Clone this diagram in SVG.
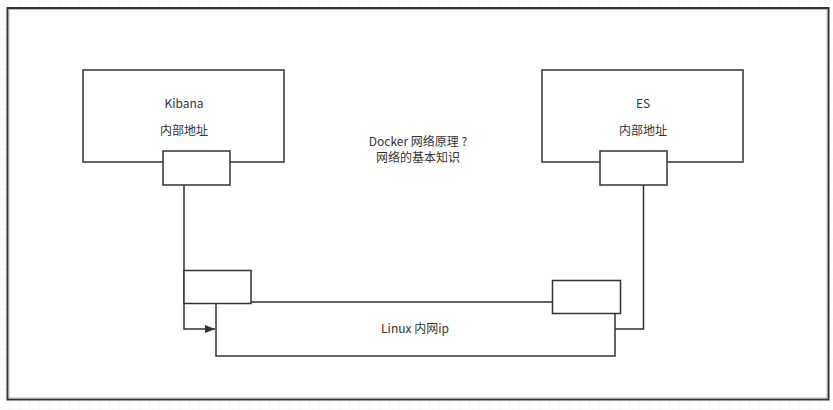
<svg xmlns="http://www.w3.org/2000/svg" width="833" height="410" viewBox="0 0 833 410">
<defs>
<pattern id="grid" width="10" height="10" patternUnits="userSpaceOnUse">
<path d="M10 0 V10 M0 10 H10" fill="none" stroke="#f0f0f0" stroke-width="1"/>
</pattern>
<marker id="arr" viewBox="0 0 10 10" refX="10" refY="5" markerWidth="10" markerHeight="10" markerUnits="userSpaceOnUse" orient="auto">
<path d="M0 1 L10 5 L0 9 Z" fill="#333"/>
</marker>
<style>
.box{fill:#fff;stroke:#333;stroke-width:1.5}
.ln{fill:none;stroke:#333;stroke-width:1.5}
.t{font-family:"Microsoft YaHei","Noto Sans CJK SC",sans-serif;font-size:12px;fill:#333;text-anchor:middle}
</style>
</defs>
<rect width="833" height="410" fill="#fff"/>
<rect width="833" height="410" fill="url(#grid)"/>
<g id="frame">
<rect x="7.5" y="8" width="821" height="391.5" fill="#fff" stroke="#333" stroke-width="2"/>
<rect x="9" y="9.5" width="818" height="388.5" fill="none" stroke="#aaa" stroke-width="0.8"/>
</g>
<g id="connectors">
<path class="ln" d="M184 185 V329 H215" marker-end="url(#arr)"/>
<path class="ln" d="M643.5 185 V329 H615"/>
</g>
<g id="linux">
<rect class="box" x="216" y="302" width="399" height="54"/>
<text class="t" x="415" y="333">Linux 内网ip</text>
</g>
<g id="kibana">
<rect class="box" x="83" y="70" width="201" height="92"/>
<text class="t" x="184" y="108">Kibana</text>
<text class="t" x="184" y="135">内部地址</text>
</g>
<g id="kibana-port">
<rect class="box" x="163" y="151" width="67" height="34"/>
</g>
<g id="es">
<rect class="box" x="542" y="70" width="201" height="92"/>
<text class="t" x="643" y="108">ES</text>
<text class="t" x="643" y="135">内部地址</text>
</g>
<g id="es-port">
<rect class="box" x="600" y="151" width="67" height="34"/>
</g>
<g id="left-port">
<rect class="box" x="184" y="270.5" width="67" height="33"/>
</g>
<g id="right-port">
<rect class="box" x="552.5" y="280.5" width="68" height="33"/>
</g>
<g id="note">
<text class="t" x="418" y="146">Docker 网络原理 ?</text>
<text class="t" x="418" y="161.5">网络的基本知识</text>
</g>
</svg>
